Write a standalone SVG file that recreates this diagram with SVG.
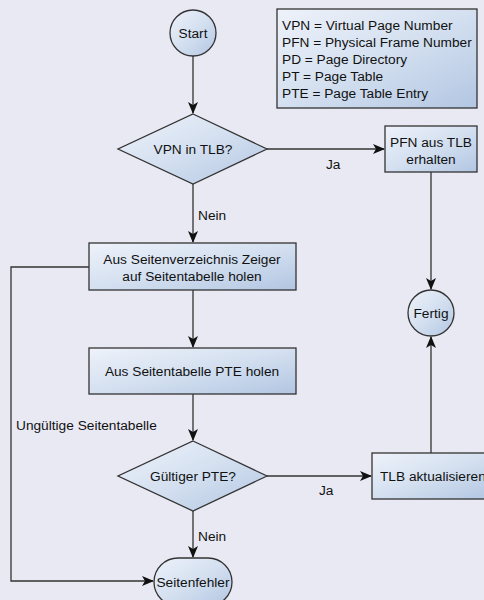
<svg xmlns="http://www.w3.org/2000/svg" width="484" height="600" viewBox="0 0 484 600">
<defs>
<linearGradient id="g" x1="0" y1="0" x2="1" y2="1">
<stop offset="0" stop-color="#eef2fa"/>
<stop offset="0.5" stop-color="#d4e0f0"/>
<stop offset="1" stop-color="#b2c6e2"/>
</linearGradient>
<marker id="ah" viewBox="0 0 12 10" refX="11" refY="5" markerWidth="12" markerHeight="10" markerUnits="userSpaceOnUse" orient="auto">
<path d="M0,0 L12,5 L0,10 L3,5 Z" fill="#111"/>
</marker>
</defs>
<style>
.s{fill:url(#g);stroke:#333;stroke-width:1.3}
.t{font-family:"Liberation Sans",Arial,sans-serif;font-size:13.7px;fill:#111}
.m{text-anchor:middle}
.c{fill:none;stroke:#333;stroke-width:1.3}
</style>
<rect width="484" height="600" fill="#e9e9f3"/>
<g id="connectors">
<path class="c" d="M193,56 V113" marker-end="url(#ah)"/>
<path class="c" d="M267,149 H384" marker-end="url(#ah)"/>
<path class="c" d="M193,184 V242" marker-end="url(#ah)"/>
<path class="c" d="M431,172 V289" marker-end="url(#ah)"/>
<path class="c" d="M193,290 V347" marker-end="url(#ah)"/>
<path class="c" d="M193,394 V440" marker-end="url(#ah)"/>
<path class="c" d="M267,476 H371" marker-end="url(#ah)"/>
<path class="c" d="M431,453 V337" marker-end="url(#ah)"/>
<path class="c" d="M193,511 V557" marker-end="url(#ah)"/>
<path class="c" d="M89,267 H11 V581 H153" marker-end="url(#ah)"/>
<text class="t" x="326" y="169">Ja</text>
<text class="t" x="198" y="220">Nein</text>
<text class="t" x="319" y="495">Ja</text>
<text class="t" x="198" y="541">Nein</text>
<text class="t" x="16" y="430">Ungültige Seitentabelle</text>
</g>
<g id="start">
<circle class="s" cx="193" cy="33" r="23"/>
<text class="t m" x="193" y="38">Start</text>
</g>
<g id="legend">
<rect class="s" x="277" y="9" width="200" height="99"/>
<text class="t" x="282" y="30">VPN = Virtual Page Number</text>
<text class="t" x="282" y="47">PFN = Physical Frame Number</text>
<text class="t" x="282" y="64">PD = Page Directory</text>
<text class="t" x="282" y="81">PT = Page Table</text>
<text class="t" x="282" y="98">PTE = Page Table Entry</text>
</g>
<g id="vpn-in-tlb">
<polygon class="s" points="193,114 267,149 193,184 118,149"/>
<text class="t m" x="193" y="154">VPN in TLB?</text>
</g>
<g id="pfn-aus-tlb">
<rect class="s" x="385" y="126" width="92" height="46"/>
<text class="t m" x="431" y="147">PFN aus TLB</text>
<text class="t m" x="431" y="164">erhalten</text>
</g>
<g id="seitenverzeichnis">
<rect class="s" x="89" y="243" width="207" height="47"/>
<text class="t m" x="192" y="264">Aus Seitenverzeichnis Zeiger</text>
<text class="t m" x="192" y="281">auf Seitentabelle holen</text>
</g>
<g id="fertig">
<circle class="s" cx="431" cy="313" r="23"/>
<text class="t m" x="431" y="318">Fertig</text>
</g>
<g id="seitentabelle-pte">
<rect class="s" x="89" y="348" width="207" height="46"/>
<text class="t m" x="192" y="376">Aus Seitentabelle PTE holen</text>
</g>
<g id="gueltiger-pte">
<polygon class="s" points="193,441 267,476 193,511 118,476"/>
<text class="t m" x="193" y="481">Gültiger PTE?</text>
</g>
<g id="tlb-aktualisieren">
<rect class="s" x="372" y="453" width="120" height="46"/>
<text class="t" x="380" y="481">TLB aktualisieren</text>
</g>
<g id="seitenfehler">
<rect class="s" x="154" y="558" width="78" height="48" rx="24" ry="24"/>
<text class="t m" x="193" y="587">Seitenfehler</text>
</g>
</svg>
